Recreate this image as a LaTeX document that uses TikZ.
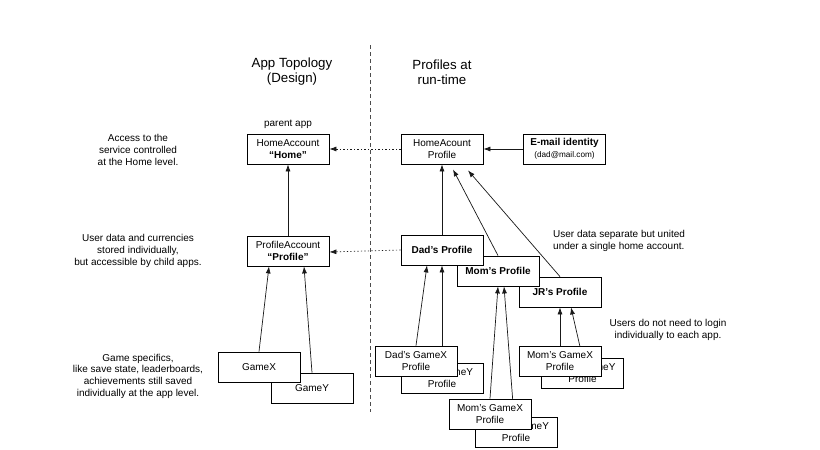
\documentclass[tikz,border=0pt]{standalone}
\usepackage{fontspec}
\setmainfont{Liberation Sans}
\usetikzlibrary{arrows.meta}
\begin{document}
\begin{tikzpicture}[x=1pt,y=-1pt,
  box/.style={draw=black,line width=0.8pt,fill=white,minimum width=82pt,minimum height=30pt,inner sep=0pt,align=center,font=\fontsize{10}{12}\selectfont},
  note/.style={align=center,font=\fontsize{10}{11.7}\selectfont,inner sep=0pt},
  ttl/.style={align=center,font=\fontsize{13.3}{15}\selectfont,inner sep=0pt},
  arr/.style={draw=black!90,line width=0.7pt,-{Latex[length=7pt,width=5pt]}},
  dotarr/.style={draw=black!90,line width=0.7pt,dash pattern=on 1.2pt off 2.3pt,-{Latex[length=7pt,width=5pt]}},
  divider/.style={draw=black!70,line width=0.8pt,dash pattern=on 4pt off 3pt},
]
\useasboundingbox[fill=white] (0,0) rectangle (820,450);

% divider
\coordinate (dtop) at (370,45);
\coordinate (dbot) at (370,412);
\draw[divider] (dtop) -- (dbot);

% titles
\node[ttl] (t1) at (292,72) {App Topology\\(Design)};
\node[ttl] (t2) at (442,72) {Profiles at\\run-time};

% left notes
\node[note] (n1) at (138,150) {Access to the\\service controlled\\at the Home level.};
\node[note] (n2) at (138,251) {User data and currencies\\stored individually,\\but accessible by child apps.};
\node[note] (n3) at (138,376) {Game specifics,\\like save state, leaderboards,\\achievements still saved\\individually at the app level.};
\node[note] (pa) at (288,124) {parent app};

% right notes
\node[note,align=left,anchor=west] (n4) at (553,241) {User data separate but united\\under a single home account.};
\node[note] (n5) at (668,330) {Users do not need to login\\individually to each app.};

% design side
\node[box] (home) at (288,149) {HomeAccount\\\textbf{“Home”}};
\node[box] (prof) at (288,251) {ProfileAccount\\\textbf{“Profile”}};
\node[box] (gamey) at (312,388) {GameY};
\node[box] (gamex) at (259,367) {GameX};
\draw[arr] (prof.north) -- (home.south);
\draw[arr] (gamex.north) -- ([xshift=-19pt]prof.south);
\draw[arr] (gamey.north) -- ([xshift=16pt]prof.south);

% runtime side
\node[box] (hp) at (442,149) {HomeAcount\\Profile};
\node[box] (email) at (564.5,149) {\textbf{E-mail identity}\\{\fontsize{8.2}{10}\selectfont (dad@mail.com)}};
\draw[arr] (email.west) -- (hp.east);
\draw[dotarr] (hp.west) -- (home.east);

\node[box,font=\fontsize{10}{12}\bfseries] (jr) at (560,292) {JR’s Profile};
\node[box,font=\fontsize{10}{12}\bfseries] (mom) at (498,271) {Mom’s Profile};
\node[box,font=\fontsize{10}{12}\bfseries] (dad) at (442,250) {Dad’s Profile};
\draw[dotarr] (dad.west) -- ([yshift=-1pt]prof.east);

\draw[arr] (dad.north) -- (hp.south);
\draw[arr] (mom.north) -- ([xshift=11pt,yshift=-5pt]hp.south);
\draw[arr] (jr.north) -- ([xshift=26pt,yshift=-6pt]hp.south);

% Dad's games
\node[box] (dgy) at (442,378) {Dad’s GameY\\Profile};
\draw[arr] (dgy.north) -- (dad.south);
\node[box] (dgx) at (416,361) {Dad’s GameX\\Profile};
\draw[arr] (dgx.north) -- ([xshift=-15pt]dad.south);

% Mom's games
\node[box] (mgy) at (516,432) {Mom’s GameY\\Profile};
\draw[arr] ([xshift=-2pt]mgy.north) -- ([xshift=6pt]mom.south);
\node[box] (mgx) at (490,414) {Mom’s GameX\\Profile};
\draw[arr] (mgx.north) -- (mom.south);

% JR's games
\node[box] (jgy) at (582.5,373) {Mom’s GameY\\Profile};
\draw[arr] (jgy.north) -- ([xshift=11pt]jr.south);
\node[box] (jgx) at (560,361) {Mom’s GameX\\Profile};
\draw[arr] (jgx.north) -- (jr.south);
\end{tikzpicture}
\end{document}
